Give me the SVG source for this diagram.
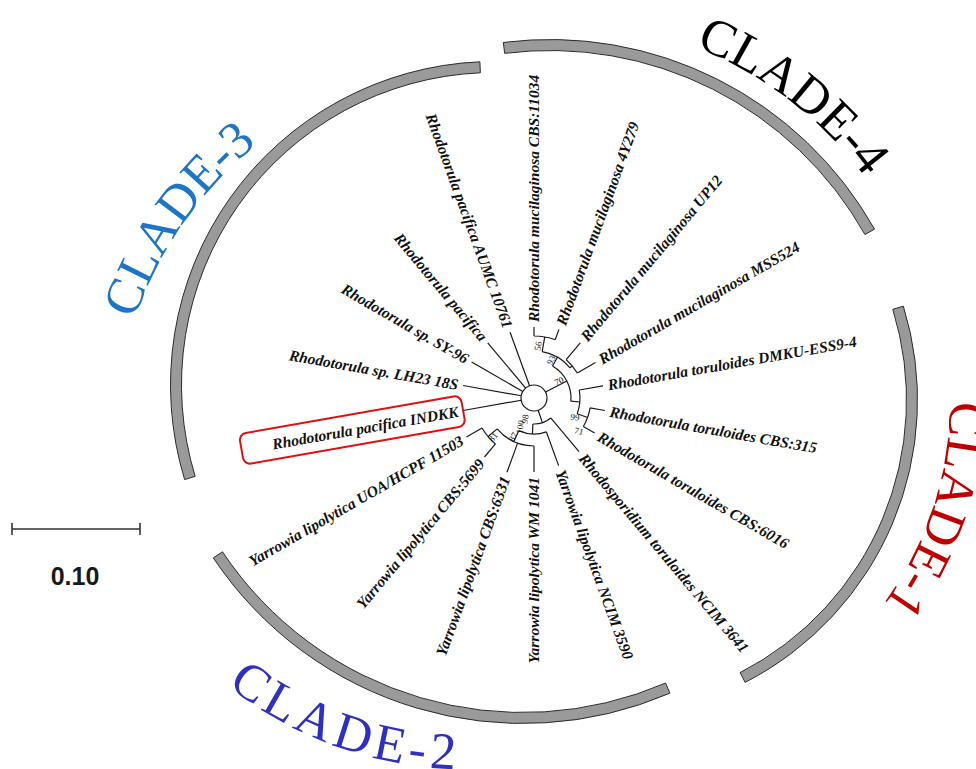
<svg xmlns="http://www.w3.org/2000/svg" width="976" height="769" viewBox="0 0 976 769">
<style>
.br{fill:none;stroke:#1a1a1a;stroke-width:1.2}
.lf{font-family:"Liberation Serif","Times New Roman",serif;font-weight:bold;font-style:italic;font-size:15.5px;fill:#111}
.bs{font-family:"Liberation Serif","Times New Roman",serif;font-size:9px;fill:#111;text-anchor:middle}
.band{fill:#9a9a9a;stroke:#2b2b2b;stroke-width:1}
.cl{font-family:"Liberation Serif","Times New Roman",serif;font-size:52px}
</style>
<defs>
<path id="p4" d="M 532.86 19.37 A 393 393 0 0 1 933.69 326.94"/>
<path id="p1" d="M 925.33 271.88 A 345 345 0 0 1 786.80 693.21"/>
<path id="p3" d="M 115.47 477.56 A 385 385 0 0 1 399.35 72.12"/>
<path id="p2" d="M 118.49 579.61 A 386 386 0 0 0 594.54 719.71"/>
</defs>
<rect width="976" height="769" fill="#fff"/>
<g id="clade-arcs">
<path class="band" d="M 903.30 306.11 A 317.5 317.5 0 0 1 745.13 682.39 L 740.10 672.61 A 306.5 306.5 0 0 0 892.79 309.37 Z"/>
<path class="band" d="M 503.31 42.44 A 372.5 372.5 0 0 1 874.53 229.14 L 864.94 234.54 A 361.5 361.5 0 0 0 504.69 53.35 Z"/>
<path class="band" d="M 184.64 479.58 A 323.5 323.5 0 0 1 479.89 61.81 L 480.37 72.80 A 312.5 312.5 0 0 0 195.16 476.37 Z"/>
<path class="band" d="M 669.94 693.16 A 372 372 0 0 1 213.31 557.90 L 222.47 551.80 A 361 361 0 0 0 665.59 683.06 Z"/>
</g>
<g id="clade-labels">
<text class="cl" fill="#000"><textPath href="#p4" startOffset="50%" text-anchor="middle">CLADE-4</textPath></text>
<text class="cl" fill="#c00000"><textPath href="#p1" startOffset="50%" text-anchor="middle">CLADE-1</textPath></text>
<text class="cl" fill="#1c75c6" font-size="50"><textPath href="#p3" startOffset="50%" text-anchor="middle">CLADE-3</textPath></text>
<text class="cl" fill="#3030c0" font-size="56" letter-spacing="5" transform="rotate(5 255 692)"><textPath href="#p2" startOffset="52%" text-anchor="middle">CLADE-2</textPath></text>
</g>
<g id="connectors">
<circle class="br" cx="534" cy="398" r="13"/>
<path class="br" d="M534 336 L534 327 M555.21 339.74 L558.97 329.40 M534 336 A62 62 0 0 1 555.21 339.74 M542.16 351.71 L544.77 336.94"/>
<path class="br" d="M566.14 359.70 L580.28 342.84 M577.30 373.00 L595.49 362.50 M566.14 359.70 A50 50 0 0 1 577.30 373.00 M570.00 367.79 L572.30 365.86"/>
<path class="br" d="M542.16 351.71 A47 47 0 0 1 570.00 367.79 M552.5 365.96 L557.5 357.30"/>
<path class="br" d="M579.30 390.01 L602.94 385.84 M590.13 407.90 L604.91 410.50 M583.36 426.50 L594.62 433.00 M590.13 407.90 A57 57 0 0 1 583.36 426.50 M577.23 413.73 L587.56 417.50 M579.30 390.01 A46 46 0 0 1 577.23 413.73 M570.86 401.22 L579.82 402.01"/>
<path class="br" d="M552.5 365.96 A37 37 0 0 1 570.86 401.22 M545.53 392.00 L566.82 380.92"/>
<path class="br" d="M550.71 417.92 L579.00 451.62 M546.31 431.83 L558.63 465.66 M534 446 L534 472 M517.58 443.11 L506.98 472.24 M495.43 443.96 L484.51 456.99 M482.04 428.00 L466.45 437.00"/>
<path class="br" d="M495.43 443.96 A60 60 0 0 1 482.04 428.00 M497.23 428.85 L488.04 436.57 M534 446 A48 48 0 0 1 497.23 428.85 M518.79 430.63 L513.71 441.50"/>
<path class="br" d="M546.31 431.83 A36 36 0 0 1 518.79 430.63 M532.87 423.98 L532.43 433.97 M550.71 417.92 A26 26 0 0 1 532.87 423.98 M538.18 410.31 L542.36 422.62"/>
<path class="br" d="M521.20 400.26 L463.09 410.50 M521.20 395.74 L463.09 385.50 M522.74 391.50 L471.65 362.00 M525.64 388.04 L487.72 342.84 M529.55 385.78 L510.06 332.22"/>
</g>
<g id="bootstrap">
<text class="bs" transform="translate(538 346) rotate(-80)" dy="0.35em">56</text>
<text class="bs" transform="translate(551 360) rotate(-60)" dy="0.35em">93</text>
<text class="bs" transform="translate(559 381) rotate(-25)" dy="0.35em">70</text>
<text class="bs" transform="translate(575 417) rotate(5)" dy="0.35em">99</text>
<text class="bs" transform="translate(579 431) rotate(15)" dy="0.35em">71</text>
<text class="bs" transform="translate(525 419) rotate(-80)" dy="0.35em">98</text>
<text class="bs" transform="translate(520 427) rotate(-80)" dy="0.35em">100</text>
<text class="bs" transform="translate(513 437) rotate(-60)" dy="0.35em">87</text>
<text class="bs" transform="translate(493 437) rotate(-50)" dy="0.35em">81</text>
</g>
<g id="leaf-cbs11034"><text class="lf" transform="translate(534 322) rotate(-90)" dy="0.35em">Rhodotorula mucilaginosa CBS:11034</text></g>
<g id="leaf-4y279"><text class="lf" transform="translate(560.68 324.70) rotate(-70)" dy="0.35em">Rhodotorula mucilaginosa 4Y279</text></g>
<g id="leaf-up12"><text class="lf" transform="translate(583.49 339.01) rotate(-50)" dy="0.35em">Rhodotorula mucilaginosa UP12</text></g>
<g id="leaf-mss524"><text class="lf" transform="translate(599.82 360) rotate(-30)" dy="0.35em">Rhodotorula mucilaginosa MSS524</text></g>
<g id="leaf-dmku"><text class="lf" transform="translate(607.86 384.98) rotate(-10)" dy="0.35em">Rhodotorula toruloides DMKU-ESS9-4</text></g>
<g id="leaf-cbs315"><text class="lf" transform="translate(609.83 411.37) rotate(10)" dy="0.35em">Rhodotorula toruloides CBS:315</text></g>
<g id="leaf-cbs6016"><text class="lf" transform="translate(598.95 435.5) rotate(30)" dy="0.35em">Rhodotorula toruloides CBS:6016</text></g>
<g id="leaf-ncim3641"><text class="lf" transform="translate(582.21 455.45) rotate(50)" dy="0.35em">Rhodosporidium toruloides NCIM 3641</text></g>
<g id="leaf-ncim3590"><text class="lf" transform="translate(560.34 470.36) rotate(70)" dy="0.35em">Yarrowia lipolytica NCIM 3590</text></g>
<g id="leaf-wm1041"><text class="lf" transform="translate(534 477) rotate(-90)" dy="0.35em" text-anchor="end">Yarrowia lipolytica WM 1041</text></g>
<g id="leaf-cbs6331"><text class="lf" transform="translate(505.27 476.93) rotate(-70)" dy="0.35em" text-anchor="end">Yarrowia lipolytica CBS:6331</text></g>
<g id="leaf-cbs5699"><text class="lf" transform="translate(481.29 460.82) rotate(-50)" dy="0.35em" text-anchor="end">Yarrowia lipolytica CBS:5699</text></g>
<g id="leaf-uoa"><text class="lf" transform="translate(462.12 439.5) rotate(-30)" dy="0.35em" text-anchor="end">Yarrowia lipolytica UOA/HCPF 11503</text></g>
<g id="leaf-indkk">
<rect x="-112.5" y="-15.5" width="225" height="31" rx="7" fill="none" stroke="#e01010" stroke-width="2" transform="translate(352.3 430) rotate(-10)"/>
<text class="lf" transform="translate(458.17 411.37) rotate(-10)" dy="0.35em" text-anchor="end">Rhodotorula pacifica INDKK</text>
</g>
<g id="leaf-lh23"><text class="lf" transform="translate(458.17 384.63) rotate(10)" dy="0.35em" text-anchor="end">Rhodotorula sp. LH23 18S</text></g>
<g id="leaf-sy96"><text class="lf" transform="translate(467.32 359.5) rotate(30)" dy="0.35em" text-anchor="end">Rhodotorula sp. SY-96</text></g>
<g id="leaf-pacifica"><text class="lf" transform="translate(484.51 339.01) rotate(50)" dy="0.35em" text-anchor="end">Rhodotorula pacifica</text></g>
<g id="leaf-aumc"><text class="lf" transform="translate(508.35 327.52) rotate(70)" dy="0.35em" text-anchor="end">Rhodotorula pacifica AUMC 10761</text></g>
<g id="scale">
<path d="M12 529 H140 M12 523 V535 M140 523 V535" fill="none" stroke="#333" stroke-width="1.6"/>
<text x="75" y="585" text-anchor="middle" font-family="Liberation Sans, Arial, sans-serif" font-weight="bold" font-size="25" fill="#1a1a1a">0.10</text>
</g>
</svg>
